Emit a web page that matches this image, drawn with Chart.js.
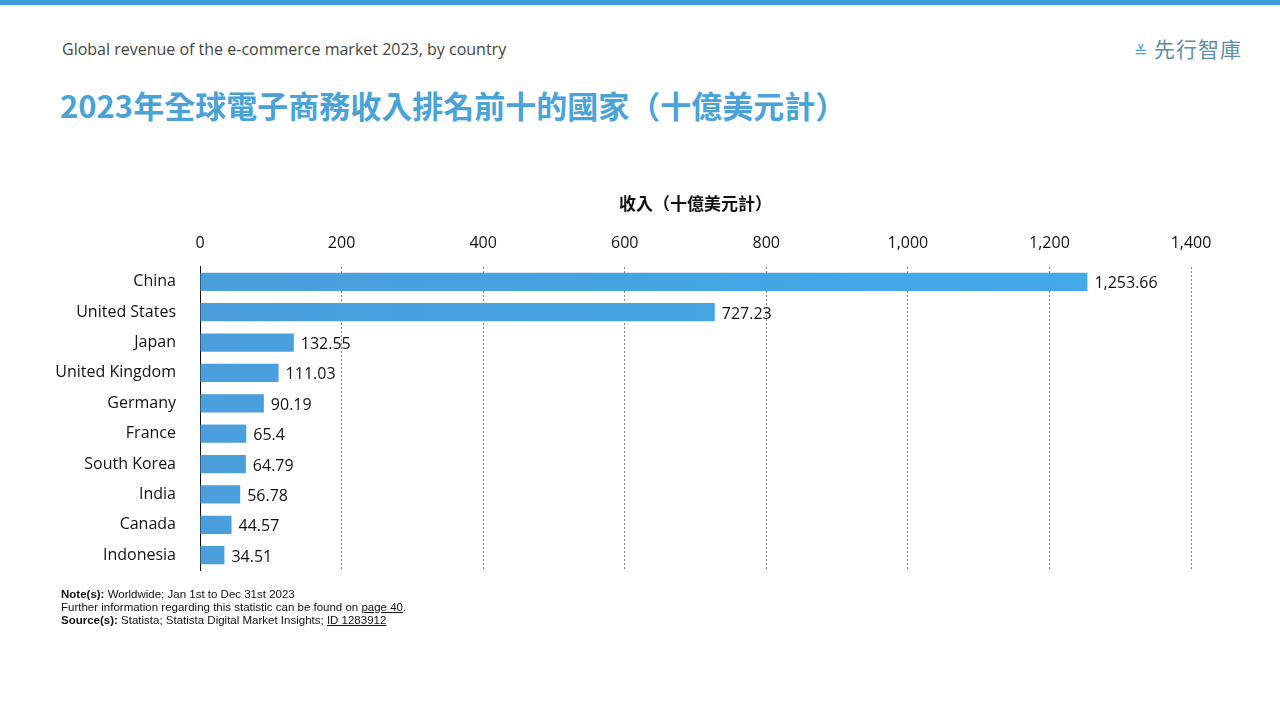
<!DOCTYPE html>
<html><head><meta charset="utf-8">
<script src="https://cdn.jsdelivr.net/npm/chart.js"></script>
<style>
body{margin:0;width:1280px;height:720px;background:#fff;position:relative;overflow:hidden;font-family:"Open Sans","Noto Sans CJK TC",sans-serif}
#bar{position:absolute;left:0;top:0;width:1280px;height:5px;background:#3d9ee0}
#sub{position:absolute;left:62px;top:38px;font-size:16px;color:#444}
#title{position:absolute;left:60px;top:82px;font-size:31px;font-weight:bold;color:#4aa3d8;font-family:"Noto Sans CJK TC",sans-serif}
#logo{position:absolute;left:1134px;top:33px;font-size:21px;color:#5b8fa8;font-family:"Noto Sans CJK TC",sans-serif;letter-spacing:1px}
#logo span{font-size:16px;color:#4aa3d8;margin-right:6px}
#notes{position:absolute;left:61px;top:588px;font-size:11.5px;line-height:13px;color:#111;font-family:"Liberation Sans",sans-serif}
#notes u{text-decoration:underline}
#wrap{position:absolute;left:0;top:193px;width:1280px;height:403px}
</style></head><body>
<div id="bar"></div>
<div id="sub">Global revenue of the e-commerce market 2023, by country</div>
<div id="title">2023年全球電子商務收入排名前十的國家（十億美元計）</div>
<div id="logo"><span>≚</span>先行智庫</div>
<div id="wrap"><canvas id="c"></canvas></div>
<div id="notes"><b>Note(s):</b> Worldwide; Jan 1st to Dec 31st 2023<br>Further information regarding this statistic can be found on <u>page 40</u>.<br><b>Source(s):</b> Statista; Statista Digital Market Insights; <u>ID 1283912</u></div>
<script>
const countries=["China","United States","Japan","United Kingdom","Germany","France","South Korea","India","Canada","Indonesia"];
const revenue=[1253.66,727.23,132.55,111.03,90.19,65.4,64.79,56.78,44.57,34.51];
const valueLabels=["1,253.66","727.23","132.55","111.03","90.19","65.4","64.79","56.78","44.57","34.51"];
const axisTitle="收入（十億美元計）";
const labelPlugin={id:'vl',afterDatasetsDraw(ch){const ctx=ch.ctx;const m=ch.getDatasetMeta(0);ctx.save();ctx.font='16px "Open Sans"';ctx.fillStyle='#111';ctx.textBaseline='middle';m.data.forEach((b,i)=>{ctx.fillText(valueLabels[i],b.x+7,b.y+2);});ctx.restore();}};
new Chart(document.getElementById('c'),{type:'bar',
data:{labels:countries,datasets:[{data:revenue,backgroundColor:(c)=>{const a=c.chart.chartArea;if(!a)return'#48a8e4';const g=c.chart.ctx.createLinearGradient(a.left,0,a.right,0);g.addColorStop(0,'#4a9fdc');g.addColorStop(1,'#42aaea');return g;},barPercentage:0.6,categoryPercentage:1}]},
options:{indexAxis:'y',responsive:true,maintainAspectRatio:false,animation:false,
layout:{padding:{right:89,top:0,bottom:0,left:0}},
plugins:{legend:{display:false},tooltip:{enabled:false}},
scales:{
x:{position:'top',min:0,max:1400,ticks:{stepSize:200,color:'#111',font:{size:16,family:'Open Sans'},padding:14,callback:v=>v.toLocaleString('en-US')},
 grid:{color:'#888',lineWidth:1,drawTicks:false},border:{display:false,dash:[2,2]},
 title:{display:true,text:axisTitle,color:'#111',font:{size:17,weight:'bold',family:'Noto Sans CJK TC'},padding:{top:0,bottom:6}}},
y:{ticks:{color:'#111',font:{size:16,family:'Open Sans'},padding:16},grid:{display:false},border:{display:true,color:'#111',width:1},
 afterFit(s){s.width=200;}}
}},plugins:[labelPlugin]});
</script></body></html>
